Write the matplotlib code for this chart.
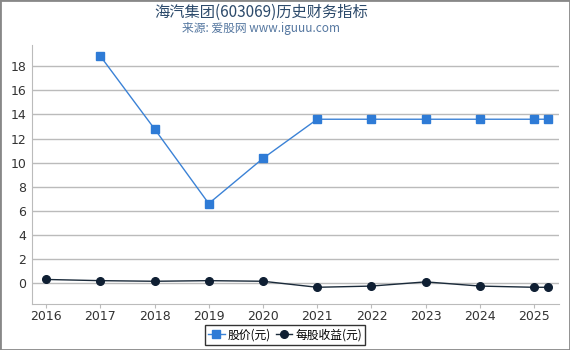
import matplotlib.pyplot as plt
from matplotlib.patches import Rectangle

plt.rcParams['font.family'] = ['Noto Sans CJK SC', 'DejaVu Sans']

years = [2016, 2017, 2018, 2019, 2020, 2021, 2022, 2023, 2024, 2025, 2025.25]
price_x = [2017, 2018, 2019, 2020, 2021, 2022, 2023, 2024, 2025, 2025.25]
price = [18.85, 12.8, 6.6, 10.35, 13.6, 13.6, 13.6, 13.6, 13.6, 13.6]
eps = [0.3, 0.2, 0.15, 0.2, 0.15, -0.35, -0.25, 0.1, -0.25, -0.35, -0.35]
xticks = [2016, 2017, 2018, 2019, 2020, 2021, 2022, 2023, 2024, 2025]
yticks = [0, 2, 4, 6, 8, 10, 12, 14, 16, 18]

fig = plt.figure(figsize=(5.7, 3.5), dpi=100)
ax = fig.add_axes([0.056, 0.131, 0.924, 0.74])

ax.plot(price_x, price, color='#3b82d6', lw=1, marker='s', ms=5.5,
        mfc='#2e7bd6', mec='#2e7bd6', label='股价(元)', zorder=3)
ax.plot(years, eps, color='#1a2a3a', lw=1, marker='o', ms=5.5,
        mfc='#0f1f33', mec='#0f1f33', label='每股收益(元)', zorder=3)

ax.set_xlim(2015.74, 2025.45)
ax.set_ylim(-1.75, 19.75)
ax.set_xticks(xticks)
ax.set_xticklabels([str(x) for x in xticks], family='DejaVu Sans')
ax.set_yticks(yticks)
ax.set_yticklabels([str(y) for y in yticks], family='DejaVu Sans')
ax.tick_params(axis='both', labelsize=9, colors='#333333', width=0.8)
ax.tick_params(axis='y', length=0, pad=4)
ax.tick_params(axis='x', color='#bbbbbb', length=3, pad=1)
ax.grid(axis='y', color='#bbbbbb', lw=1)
for s in ['top', 'right']:
    ax.spines[s].set_visible(False)
ax.spines['left'].set_color('#bbbbbb')
ax.spines['bottom'].set_color('#bbbbbb')

fig.text(0.458, 0.965, '海汽集团(603069)历史财务指标', ha='center', va='center',
         fontsize=11, color='#2c4a6b')
fig.text(0.458, 0.918, '来源: 爱股网 www.iguuu.com', ha='center', va='center',
         fontsize=8.5, color='#5577a0')

leg = fig.legend(loc='lower center', bbox_to_anchor=(0.5, 0.004), ncol=2,
                 fontsize=8.5, frameon=True, fancybox=False, handlelength=1.4,
                 handletextpad=0.25, columnspacing=0.4, borderpad=0.3,
                 borderaxespad=0.3)
leg.get_frame().set_edgecolor('black')
leg.get_frame().set_linewidth(1)

fig.patches.append(Rectangle((0, 0), 1, 1, transform=fig.transFigure,
                             fill=False, edgecolor='#888888', lw=2))

fig.savefig('out.png', dpi=100)
